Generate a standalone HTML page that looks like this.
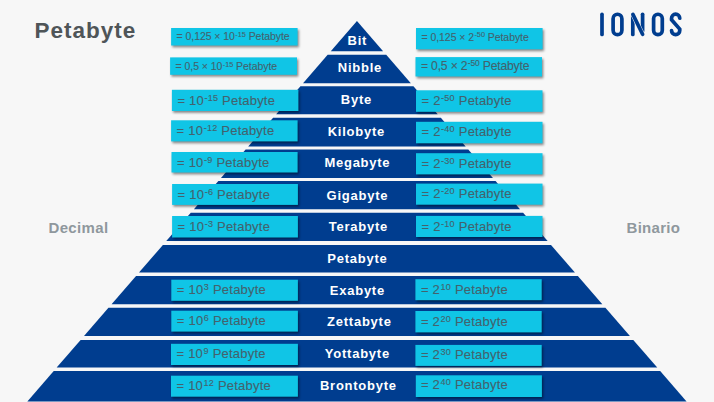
<!DOCTYPE html>
<html><head><meta charset="utf-8"><style>
html,body{margin:0;padding:0;}
body{width:714px;height:402px;background:#f7f7f7;position:relative;overflow:hidden;font-family:"Liberation Sans",sans-serif;}
svg{position:absolute;left:0;top:0;}
.tx{position:absolute;color:#44626d;white-space:nowrap;-webkit-text-stroke:0.1px #44626d;}
.tx sup{font-size:0.7em;vertical-align:0;position:relative;top:-0.45em;margin-left:0.5px;}
.lb{position:absolute;left:257px;width:200px;text-align:center;color:#fff;font-weight:bold;font-size:13px;line-height:1;letter-spacing:0.75px;text-indent:0.75px;white-space:nowrap;}
.t{position:absolute;white-space:nowrap;font-weight:bold;line-height:1;}
</style></head><body>
<svg width="714" height="402" viewBox="0 0 714 402">
<defs>
<filter id="sh" x="-10%" y="-30%" width="120%" height="160%" color-interpolation-filters="sRGB">
<feDropShadow dx="1.3" dy="1.8" stdDeviation="1" flood-color="#000" flood-opacity="0.45"/>
</filter>
</defs>
<g fill="#003d8f">
<polygon points="356.95,21.0 383.12,51.20 330.78,51.20"/>
<polygon points="327.66,54.80 386.24,54.80 410.85,83.20 303.05,83.20"/>
<polygon points="300.45,86.20 413.45,86.20 437.71,114.20 276.19,114.20"/>
<polygon points="273.07,117.80 440.83,117.80 465.70,146.50 248.20,146.50"/>
<polygon points="245.60,149.50 468.30,149.50 492.95,177.95 220.95,177.95"/>
<polygon points="218.35,180.95 495.55,180.95 520.00,209.17 193.90,209.17"/>
<polygon points="190.78,212.77 523.12,212.77 547.62,241.05 166.28,241.05"/>
<polygon points="162.90,244.95 551.00,244.95 574.92,272.55 138.98,272.55"/>
<polygon points="136.04,275.95 577.86,275.95 602.32,304.17 111.58,304.17"/>
<polygon points="108.46,307.77 605.44,307.77 629.91,336.02 83.99,336.02"/>
<polygon points="80.61,339.92 633.29,339.92 657.24,367.55 56.66,367.55"/>
<polygon points="53.72,370.95 660.18,370.95 686.57,401.40 27.33,401.40"/>
</g>
<g fill="#10c5e6" filter="url(#sh)">
<rect x="171.1" y="28.0" width="126.5" height="17.5"/>
<rect x="170.1" y="57.4" width="126.9" height="17.4"/>
<rect x="171.9" y="89.8" width="126.5" height="21.2"/>
<rect x="171.1" y="120.3" width="126.5" height="21.1"/>
<rect x="171.5" y="152.0" width="126.1" height="20.5"/>
<rect x="172.1" y="184.0" width="125.8" height="20.9"/>
<rect x="172.1" y="216.0" width="125.8" height="21.5"/>
<rect x="171.3" y="279.7" width="126.6" height="21.1"/>
<rect x="171.3" y="310.7" width="126.6" height="20.9"/>
<rect x="171.0" y="343.8" width="126.9" height="21.2"/>
<rect x="171.0" y="375.7" width="126.9" height="21.0"/>
<rect x="416.0" y="28.0" width="126.6" height="21.3"/>
<rect x="415.5" y="57.1" width="126.5" height="19.4"/>
<rect x="416.0" y="90.3" width="126.5" height="21.5"/>
<rect x="416.0" y="121.8" width="126.5" height="21.5"/>
<rect x="416.0" y="153.2" width="126.5" height="21.2"/>
<rect x="416.0" y="183.6" width="126.5" height="21.1"/>
<rect x="416.0" y="215.9" width="126.5" height="21.1"/>
<rect x="415.4" y="279.2" width="126.3" height="21.0"/>
<rect x="415.4" y="311.0" width="126.3" height="21.4"/>
<rect x="415.4" y="344.9" width="126.3" height="21.0"/>
<rect x="415.8" y="375.3" width="126.1" height="21.7"/>
</g>
<g fill="none" stroke-width="3.7" stroke-linecap="round">
<g stroke="#003d8f">
<line x1="602" y1="14.3" x2="602" y2="34.4"/>
<rect x="613.1" y="14.25" width="8.8" height="20.4" rx="4.4" ry="4.4"/>
<line x1="632.8" y1="16" x2="632.8" y2="34.4"/>
<line x1="642.6" y1="14.3" x2="642.6" y2="31"/>
<rect x="653.6" y="14.25" width="8.7" height="20.4" rx="4.35" ry="4.35"/>
<path d="M679.75 18.2 A4.1 4.1 0 0 0 671.55 18.35 L671.55 19.8 L679.75 29.1 L679.75 30.55 A4.1 4.1 0 0 1 671.55 30.55"/>
</g>
<line x1="632.9" y1="14.4" x2="642.6" y2="34.3" stroke="#f7f7f7" stroke-width="4.6" stroke-linecap="butt"/>
<line x1="632.9" y1="14.4" x2="642.6" y2="34.3" stroke="#003d8f"/>
</g>
</svg>
<div class="t" style="left:34.5px;top:19.9px;font-size:22.5px;color:#4f5558;letter-spacing:1.0px;">Petabyte</div>
<div class="t" style="left:48.5px;top:220.2px;font-size:15px;color:#8f989d;letter-spacing:0.35px;">Decimal</div>
<div class="t" style="left:626.5px;top:220.2px;font-size:15px;color:#8f989d;letter-spacing:0.3px;">Binario</div>
<div class="lb" style="top:33.84px;left:257px">Bit</div>
<div class="lb" style="top:61.23px;left:259.5px">Nibble</div>
<div class="lb" style="top:92.64px;left:256px">Byte</div>
<div class="lb" style="top:124.73px;left:256px">Kilobyte</div>
<div class="lb" style="top:156.13px;left:257px">Megabyte</div>
<div class="lb" style="top:188.54px;left:257px">Gigabyte</div>
<div class="lb" style="top:219.94px;left:258px">Terabyte</div>
<div class="lb" style="top:251.84px;left:257px">Petabyte</div>
<div class="lb" style="top:283.63px;left:257px">Exabyte</div>
<div class="lb" style="top:314.94px;left:259px">Zettabyte</div>
<div class="lb" style="top:347.04px;left:257px">Yottabyte</div>
<div class="lb" style="top:378.54px;left:258px">Brontobyte</div>
<div class="tx" style="left:176.6px;top:28.0px;height:17.5px;line-height:17.5px;font-size:10.5px;letter-spacing:-0.06px">= 0,125 × 10<sup>-15</sup> Petabyte</div>
<div class="tx" style="left:175.6px;top:58.4px;height:17.4px;line-height:17.4px;font-size:10.5px;letter-spacing:-0.06px">= 0,5 × 10<sup>-15</sup> Petabyte</div>
<div class="tx" style="left:177.4px;top:89.8px;height:21.2px;line-height:21.2px;font-size:13px;letter-spacing:0.22px">= 10<sup>-15</sup> Petabyte</div>
<div class="tx" style="left:176.6px;top:120.3px;height:21.1px;line-height:21.1px;font-size:13px;letter-spacing:0.22px">= 10<sup>-12</sup> Petabyte</div>
<div class="tx" style="left:177.0px;top:153.0px;height:20.5px;line-height:20.5px;font-size:13px;letter-spacing:0.22px">= 10<sup>-9</sup> Petabyte</div>
<div class="tx" style="left:177.6px;top:185.0px;height:20.9px;line-height:20.9px;font-size:13px;letter-spacing:0.22px">= 10<sup>-6</sup> Petabyte</div>
<div class="tx" style="left:177.6px;top:216.0px;height:21.5px;line-height:21.5px;font-size:13px;letter-spacing:0.22px">= 10<sup>-3</sup> Petabyte</div>
<div class="tx" style="left:176.8px;top:278.7px;height:21.1px;line-height:21.1px;font-size:13px;letter-spacing:0.22px">= 10<sup>3</sup> Petabyte</div>
<div class="tx" style="left:176.8px;top:310.7px;height:20.9px;line-height:20.9px;font-size:13px;letter-spacing:0.22px">= 10<sup>6</sup> Petabyte</div>
<div class="tx" style="left:176.5px;top:342.8px;height:21.2px;line-height:21.2px;font-size:13px;letter-spacing:0.22px">= 10<sup>9</sup> Petabyte</div>
<div class="tx" style="left:176.5px;top:374.7px;height:21.0px;line-height:21.0px;font-size:13px;letter-spacing:0.22px">= 10<sup>12</sup> Petabyte</div>
<div class="tx" style="left:421.5px;top:26.5px;height:21.3px;line-height:21.3px;font-size:10.5px;letter-spacing:-0.06px">= 0,125 × 2<sup>-50</sup> Petabyte</div>
<div class="tx" style="left:421.0px;top:57.1px;height:19.4px;line-height:19.4px;font-size:12.2px;letter-spacing:-0.2px">= 0,5 × 2<sup>-50</sup> Petabyte</div>
<div class="tx" style="left:421.5px;top:90.3px;height:21.5px;line-height:21.5px;font-size:13px;letter-spacing:0.22px">= 2<sup>-50</sup> Petabyte</div>
<div class="tx" style="left:421.5px;top:120.8px;height:21.5px;line-height:21.5px;font-size:13px;letter-spacing:0.22px">= 2<sup>-40</sup> Petabyte</div>
<div class="tx" style="left:421.5px;top:153.2px;height:21.2px;line-height:21.2px;font-size:13px;letter-spacing:0.22px">= 2<sup>-30</sup> Petabyte</div>
<div class="tx" style="left:421.5px;top:182.6px;height:21.1px;line-height:21.1px;font-size:13px;letter-spacing:0.22px">= 2<sup>-20</sup> Petabyte</div>
<div class="tx" style="left:421.5px;top:215.9px;height:21.1px;line-height:21.1px;font-size:13px;letter-spacing:0.22px">= 2<sup>-10</sup> Petabyte</div>
<div class="tx" style="left:420.9px;top:279.2px;height:21.0px;line-height:21.0px;font-size:13px;letter-spacing:0.22px">= 2<sup>10</sup> Petabyte</div>
<div class="tx" style="left:420.9px;top:311.0px;height:21.4px;line-height:21.4px;font-size:13px;letter-spacing:0.22px">= 2<sup>20</sup> Petabyte</div>
<div class="tx" style="left:420.9px;top:343.9px;height:21.0px;line-height:21.0px;font-size:13px;letter-spacing:0.22px">= 2<sup>30</sup> Petabyte</div>
<div class="tx" style="left:420.9px;top:374.3px;height:21.7px;line-height:21.7px;font-size:13px;letter-spacing:0.22px">= 2<sup>40</sup> Petabyte</div>
</body></html>
